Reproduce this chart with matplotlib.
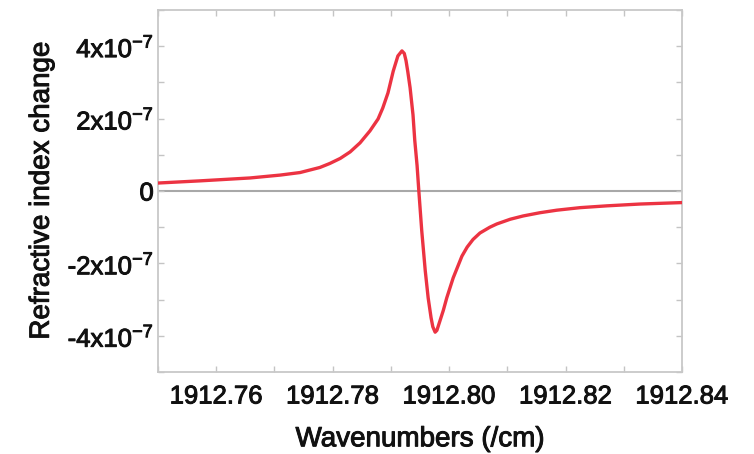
import matplotlib
matplotlib.use("Agg")
import matplotlib.pyplot as plt
import matplotlib.patheffects as pe
from matplotlib.ticker import MultipleLocator, FixedLocator, FuncFormatter, FormatStrFormatter

plt.rcParams["font.family"] = ["Liberation Sans", "DejaVu Sans"]
plt.rcParams["mathtext.default"] = "regular"

# Wavenumber (cm^-1) and refractive index change (units of 1e-7)
wavenumber = [
    1912.7500, 1912.7572, 1912.7658, 1912.7710, 1912.7744, 1912.7778,
    1912.7795, 1912.7813, 1912.7830, 1912.7847, 1912.7864, 1912.7878,
    1912.7886, 1912.7895, 1912.7904, 1912.7912, 1912.7919, 1912.7923,
    1912.7926, 1912.7929, 1912.7933, 1912.7938, 1912.7941, 1912.7945,
    1912.7948, 1912.7953, 1912.7959, 1912.7964, 1912.7969, 1912.7972,
    1912.7976, 1912.7979, 1912.7984, 1912.7990, 1912.7996, 1912.8002,
    1912.8007, 1912.8014, 1912.8022, 1912.8031, 1912.8041, 1912.8053,
    1912.8070, 1912.8082, 1912.8105, 1912.8127, 1912.8156, 1912.8185,
    1912.8225, 1912.8271, 1912.8328, 1912.8400,
]
delta_n_e7 = [
    0.22, 0.28, 0.36, 0.44, 0.51, 0.65,
    0.76, 0.90, 1.08, 1.33, 1.66, 1.99,
    2.29, 2.71, 3.31, 3.73, 3.87, 3.80,
    3.60, 3.30, 2.85, 2.10, 1.40, 0.70,
    0.00, -1.10, -2.20, -2.95, -3.50, -3.75,
    -3.90, -3.85, -3.60, -3.30, -2.95, -2.65,
    -2.40, -2.12, -1.80, -1.55, -1.34, -1.16,
    -1.00, -0.91, -0.78, -0.69, -0.60, -0.53,
    -0.46, -0.41, -0.36, -0.32,
]
x_ticks = [1912.76, 1912.78, 1912.80, 1912.82, 1912.84]
y_ticks = [-4e-7, -2e-7, 0.0, 2e-7, 4e-7]
y_tick_labels = ["-4x10$^{-7}$", "-2x10$^{-7}$", "0", "2x10$^{-7}$", "4x10$^{-7}$"]

fig = plt.figure(figsize=(7.54, 4.54), dpi=100)
ax = fig.add_axes([158 / 754, 1 - 372 / 454, 524 / 754, 362 / 454])

ax.axhline(0.0, color="#a8a8a8", lw=1.5, zorder=1)
ax.plot(wavenumber, [v * 1e-7 for v in delta_n_e7], color="#ec3342", lw=2.4,
        solid_joinstyle="round", solid_capstyle="round", zorder=3)

ax.set_xlim(1912.75, 1912.84)
ax.set_ylim(-5e-7, 5e-7)

ax.xaxis.set_major_locator(FixedLocator(x_ticks))
ax.xaxis.set_minor_locator(MultipleLocator(0.01))
ax.xaxis.set_major_formatter(FormatStrFormatter("%.2f"))
ax.yaxis.set_major_locator(FixedLocator(y_ticks))
ax.yaxis.set_minor_locator(MultipleLocator(1e-7))
ax.yaxis.set_major_formatter(FuncFormatter(
    lambda v, pos: y_tick_labels[min(range(len(y_ticks)), key=lambda i: abs(y_ticks[i] - v))]))

tick_color = "#c4c4c4"
ax.tick_params(axis="both", which="both", direction="in", top=True, right=True,
               color=tick_color, width=1.0, length=4, labelcolor="#111111")
ax.tick_params(axis="x", which="major", labelsize=18.5, pad=9)
ax.tick_params(axis="y", which="major", labelsize=18.5, pad=3)

for s in ax.spines.values():
    s.set_color("#c8c8c8")
    s.set_linewidth(1.3)

ax.set_xlabel("Wavenumbers (/cm)", fontsize=20, color="#111111")
ax.set_ylabel("Refractive index change", fontsize=20, color="#111111")
ax.xaxis.set_label_coords(0.5, -0.15)
ax.yaxis.set_label_coords(-0.197, 0.5)

# slightly heavier glyphs
heavy = [pe.withStroke(linewidth=0.7, foreground="#111111")]
for t in ax.get_xticklabels() + ax.get_yticklabels() + [ax.xaxis.label, ax.yaxis.label]:
    t.set_path_effects(heavy)

fig.savefig("out.png", dpi=100)
